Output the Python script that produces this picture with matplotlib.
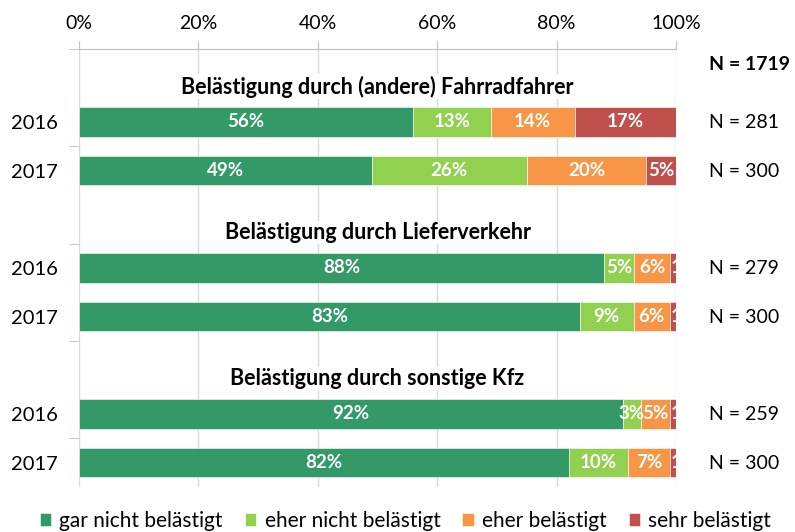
import matplotlib.pyplot as plt
import numpy as np

plt.rcParams['font.family'] = ['Lato', 'DejaVu Sans']

# Umfrage: Belästigung durch andere Verkehrsteilnehmer (Anteile in %)
groups = ['Belästigung durch (andere) Fahrradfahrer',
          'Belästigung durch Lieferverkehr',
          'Belästigung durch sonstige Kfz']
years = ['2016', '2017', '2016', '2017', '2016', '2017']
n_rows = ['N = 281', 'N = 300', 'N = 279', 'N = 300', 'N = 259', 'N = 300']
n_total = 'N = 1719'

categories = ['gar nicht belästigt', 'eher nicht belästigt',
              'eher belästigt', 'sehr belästigt']
gar_nicht = [56, 49, 88, 83, 92, 82]
eher_nicht = [13, 26, 5, 9, 3, 10]
eher = [14, 20, 6, 6, 5, 7]
sehr = [17, 5, 1, 1, 1, 1]

colors = ['#339966', '#92D050', '#F79646', '#C0504D']

values = np.array([gar_nicht, eher_nicht, eher, sehr], dtype=float)
shares = values / values.sum(axis=0) * 100  # 100%-gestapelt

# 9 Kategorie-Zeilen: Titelzeile + 2 Jahre je Gruppe
bar_pos = np.array([1, 2, 4, 5, 7, 8])
title_pos = np.array([0, 3, 6])

fig = plt.figure(figsize=(7.95, 5.32), dpi=100)
ax = fig.add_axes([0.0994, 0.0846, 0.7509, 0.8233])

left = np.zeros(len(bar_pos))
for k in range(4):
    ax.barh(bar_pos, shares[k], left=left, height=0.6, color=colors[k],
            edgecolor='white', linewidth=0.4, label=categories[k], zorder=3)
    for y, l, w, v in zip(bar_pos, left, shares[k], values[k]):
        if w < 2:
            # schmale Segmente: Beschriftung ab Segmentbeginn, am Rand abgeschnitten
            x, ha = l + 0.1, 'left'
        else:
            x, ha = l + w / 2, 'center'
        ax.text(x, y, f'{v:.0f}%', ha=ha, va='center',
                color='white', fontsize=13.5, fontweight='bold',
                clip_on=True, zorder=4)
    left += shares[k]

for y, t in zip(title_pos, groups):
    ax.text(50, y + 0.27, t, ha='center', va='center', fontsize=15.5,
            fontweight='bold', color='black', zorder=5,
            bbox=dict(facecolor='white', edgecolor='none', pad=1))

# N-Angaben rechts neben dem Diagramm
for y, t in zip(bar_pos, n_rows):
    ax.text(105.5, y + 0.02, t, ha='left', va='center', fontsize=14,
            clip_on=False)
ax.text(105.5, -0.19, n_total, ha='left', va='center', fontsize=14,
        fontweight='bold', clip_on=False)

ax.set_xlim(0, 100)
ax.set_ylim(8.5, -0.5)
ax.xaxis.tick_top()
ax.set_xticks(np.arange(0, 101, 20))
ax.set_xticklabels([f'{v}%' for v in range(0, 101, 20)], fontsize=14)
ax.tick_params(axis='x', length=6, color='#BFBFBF', pad=6)
ax.grid(axis='x', color='#D9D9D9', linewidth=1, zorder=0)

ax.set_yticks(bar_pos)
ax.set_yticklabels(years, fontsize=14.5)
ax.tick_params(axis='y', which='major', length=0, pad=15)
ax.set_yticks([-0.5, 1.5, 3.5, 5.5, 7.5], minor=True)
ax.tick_params(axis='y', which='minor', length=7, color='#BFBFBF')

for s in ['left', 'right', 'bottom']:
    ax.spines[s].set_visible(False)
ax.spines['top'].set_color('#BFBFBF')

fig.legend(loc='center', bbox_to_anchor=(0.51, 0.021), ncol=4,
           frameon=False, fontsize=15, handlelength=0.55, handleheight=0.55,
           handletextpad=0.4, columnspacing=1.05)

fig.savefig('out.png', dpi=100, facecolor='white')
